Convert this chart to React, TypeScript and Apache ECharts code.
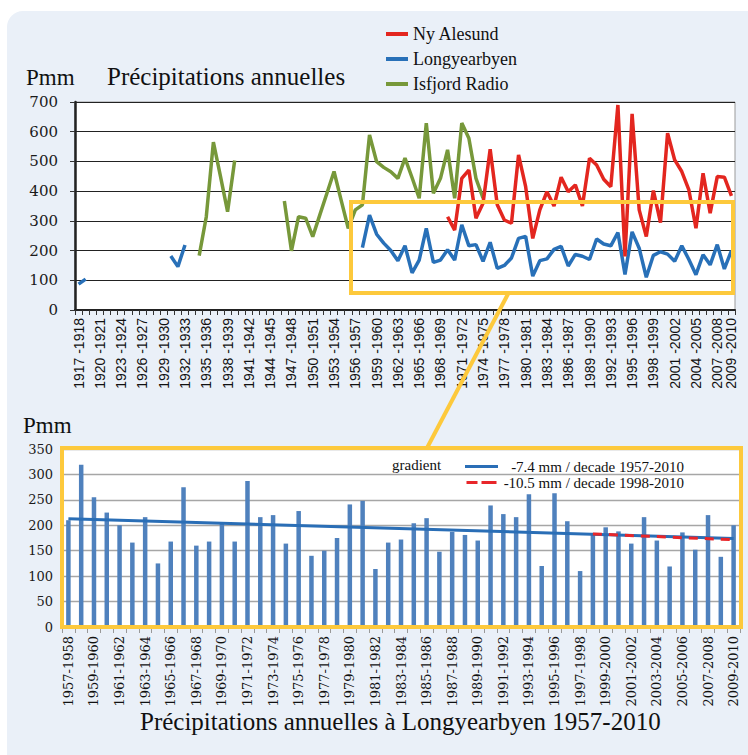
import React, { useEffect, useRef } from "react";
import * as echarts from "echarts";

// ---- Data ----
const firstYear = 1917;
const lastYear = 2009;
const topYears: number[] = [];
for (let y = firstYear; y <= lastYear; y++) topYears.push(y);
const topCategories = topYears.map((y) => `${y} -${y + 1}`);

// Ny Alesund, 1969-1970 .. 2009-2010
const nyAlesundStart = 1969;
const nyAlesund = [
  314, 269, 443, 471, 309, 359, 541, 354, 303, 292,
  522, 415, 241, 337, 398, 350, 447, 398, 421, 350,
  511, 488, 440, 415, 690, 180, 660, 337, 247, 402,
  294, 595, 505, 466, 404, 275, 460, 326, 449, 447,
  384,
];

// Longyearbyen early segments
const longyearbyenEarly1Start = 1917;
const longyearbyenEarly1 = [87, 104];
const longyearbyenEarly2Start = 1930;
const longyearbyenEarly2 = [182, 146, 219];

// Longyearbyen 1957-1958 .. 2009-2010 (bars of lower chart)
const longyearbyenStart = 1957;
const longyearbyen = [
  210, 319, 255, 225, 200, 166, 216, 125, 168, 275,
  160, 168, 203, 168, 287, 216, 220, 164, 228, 140,
  150, 175, 241, 248, 114, 166, 172, 204, 214, 148,
  187, 181, 170, 239, 222, 216, 261, 120, 263, 208,
  110, 184, 196, 188, 164, 216, 170, 119, 186, 152,
  220, 138, 200,
];

// Isfjord Radio segments
const isfjord1Start = 1934;
const isfjord1 = [183, 314, 565, 450, 331, 503];
const isfjord2Start = 1946;
const isfjord2 = [
  367, 199, 314, 309, 247, 320, 393, 466, 370, 275,
  337, 354, 589, 499, 480, 465, 443, 511, 445, 376,
  629, 393, 443, 539, 376, 629, 578, 443, 376,
];

// Lower chart categories
const bottomCategories = longyearbyen.map(
  (_, i) => `${longyearbyenStart + i}-${longyearbyenStart + i + 1}`
);

// Trend lines (end values)
const trendAllName = "-7.4 mm / decade 1957-2010";
const trendAllCats = ["1957-1958", "2009-2010"];
const trendAllValues = [213, 174];
const trendRecentName = "-10.5 mm / decade 1998-2010";
const trendRecentCats = ["1998-1999", "2009-2010"];
const trendRecentValues = [183, 171.5];

const topYTicks = { min: 0, max: 700, interval: 100 };
const bottomYTicks = { min: 0, max: 350, interval: 50 };

function place(segments: [number, number[]][]): (number | null)[] {
  const arr: (number | null)[] = topYears.map(() => null);
  segments.forEach(([start, vals]) => {
    vals.forEach((v, k) => {
      arr[start - firstYear + k] = v;
    });
  });
  return arr;
}

const RED = "#E3261F";
const BLUE = "#2870B8";
const GREEN = "#77983A";
const BAR = "#4F81BD";
const YELLOW = "#FDC93C";
const SERIF = '"Liberation Serif", serif';
const GEORGIA = '"DejaVu Serif", serif';

export default function App() {
  const ref = useRef<HTMLDivElement>(null);
  useEffect(() => {
    if (!ref.current) return;
    const chart = echarts.init(ref.current, undefined, { renderer: "svg" });
    const nyFull = place([[nyAlesundStart, nyAlesund]]);
    const lyFull = place([
      [longyearbyenEarly1Start, longyearbyenEarly1],
      [longyearbyenEarly2Start, longyearbyenEarly2],
      [longyearbyenStart, longyearbyen],
    ]);
    const isFull = place([
      [isfjord1Start, isfjord1],
      [isfjord2Start, isfjord2],
    ]);
    const lastIdx = topCategories.length - 1;

    const option: any = {
      animation: false,
      grid: [
        {
          left: 75, top: 102, width: 660, height: 208,
          show: true, backgroundColor: "#ffffff",
          borderColor: "#9a9a9a", borderWidth: 1,
        },
        {
          left: 62, top: 449, width: 678, height: 178,
          show: true, backgroundColor: "#ffffff", borderWidth: 0,
        },
      ],
      legend: [
        {
          data: [
            { name: "Ny Alesund", icon: "rect" },
            { name: "Longyearbyen", icon: "rect" },
            { name: "Isfjord Radio", icon: "rect" },
          ],
          orient: "vertical",
          left: 381, top: 20,
          itemWidth: 22, itemHeight: 4, itemGap: 7,
          textStyle: { fontFamily: SERIF, fontSize: 18, color: "#111" },
          selectedMode: false,
        },
        {
          data: [
            { name: trendAllName, icon: "rect" },
            { name: trendRecentName, icon: "path://M0,0H11V3H0Z M15,0H30V3H15Z" },
          ],
          orient: "vertical",
          left: 460, top: 454,
          itemWidth: 33, itemHeight: 3, itemGap: 1,
          selectedMode: false,
          formatter: (name: string) => `{t|${name}}`,
          textStyle: {
            fontFamily: SERIF, fontSize: 15, color: "#111",
            rich: { t: { width: 181, align: "right", fontFamily: SERIF, fontSize: 15, color: "#111" } },
          },
        },
      ],
      xAxis: [
        {
          type: "category", gridIndex: 0, data: topCategories, boundaryGap: true,
          axisLine: { lineStyle: { color: "#222", width: 2 } },
          axisTick: { show: true, interval: 0, length: 5, lineStyle: { color: "#333" } },
          axisLabel: {
            interval: (i: number) => i % 3 === 0 || i === lastIdx,
            rotate: 90, margin: 8,
            fontFamily: '"Liberation Sans", sans-serif', fontSize: 14, color: "#111",
          },
          splitLine: { show: false },
        },
        {
          type: "category", gridIndex: 1, data: bottomCategories, boundaryGap: true,
          axisLine: { show: false },
          axisTick: { show: true, interval: 0, length: 6, lineStyle: { color: "#999" } },
          axisLabel: {
            interval: 1, rotate: 90, margin: 9,
            fontFamily: GEORGIA, fontSize: 13, color: "#111",
          },
          splitLine: { show: false },
        },
      ],
      yAxis: [
        {
          type: "value", gridIndex: 0, ...topYTicks,
          axisLine: { show: true, lineStyle: { color: "#222", width: 2.5 } },
          axisTick: { show: true, length: 5, lineStyle: { color: "#333" } },
          axisLabel: { margin: 17, fontFamily: GEORGIA, fontSize: 15, color: "#1a1a1a" },
          splitLine: { show: true, lineStyle: { color: "#222", width: 1.2 } },
        },
        {
          type: "value", gridIndex: 1, ...bottomYTicks,
          axisLine: { show: false },
          axisTick: { show: false },
          axisLabel: { margin: 9, fontFamily: GEORGIA, fontSize: 13, color: "#1a1a1a" },
          splitLine: { show: true, lineStyle: { color: "#A6A6A6", width: 1.3 } },
        },
      ],
      series: [
        {
          name: "Ny Alesund", type: "line", xAxisIndex: 0, yAxisIndex: 0,
          data: nyFull, symbol: "none", showSymbol: false, connectNulls: false,
          lineStyle: { color: RED, width: 3.5 }, itemStyle: { color: RED }, z: 4,
        },
        {
          name: "Longyearbyen", type: "line", xAxisIndex: 0, yAxisIndex: 0,
          data: lyFull, symbol: "none", showSymbol: false, connectNulls: false,
          lineStyle: { color: BLUE, width: 3.5 }, itemStyle: { color: BLUE }, z: 3,
        },
        {
          name: "Isfjord Radio", type: "line", xAxisIndex: 0, yAxisIndex: 0,
          data: isFull, symbol: "none", showSymbol: false, connectNulls: false,
          lineStyle: { color: GREEN, width: 3.5 }, itemStyle: { color: GREEN }, z: 2,
        },
        {
          name: "Longyearbyen 1957-2010", type: "bar", xAxisIndex: 1, yAxisIndex: 1,
          data: longyearbyen, barWidth: 4.5, itemStyle: { color: BAR },
        },
        {
          name: trendAllName, type: "line", xAxisIndex: 1, yAxisIndex: 1,
          data: trendAllCats.map((c, i) => [c, trendAllValues[i]]),
          symbol: "none", showSymbol: false,
          lineStyle: { color: "#2A6EB6", width: 3 }, itemStyle: { color: "#2A6EB6" }, z: 5,
        },
        {
          name: trendRecentName, type: "line", xAxisIndex: 1, yAxisIndex: 1,
          data: trendRecentCats.map((c, i) => [c, trendRecentValues[i]]),
          symbol: "none", showSymbol: false,
          lineStyle: { color: "#E8262A", width: 3, type: [9, 7] }, itemStyle: { color: "#E8262A" }, z: 6,
        },
      ],
      graphic: [
        {
          type: "text", left: 26, top: 66, z: 50,
          style: { text: "Pmm", fontFamily: SERIF, fontSize: 23, fill: "#111" },
        },
        {
          type: "text", left: 107, top: 64, z: 50,
          style: { text: "Précipitations annuelles", fontFamily: SERIF, fontSize: 25, fill: "#111" },
        },
        {
          type: "text", left: 23, top: 414, z: 50,
          style: { text: "Pmm", fontFamily: SERIF, fontSize: 23, fill: "#111" },
        },
        {
          type: "text", left: 392, top: 457, z: 50,
          style: { text: "gradient", fontFamily: SERIF, fontSize: 15, fill: "#111" },
        },
        {
          type: "text", left: 140, top: 709, z: 50,
          style: {
            text: "Précipitations annuelles à Longyearbyen 1957-2010",
            fontFamily: SERIF, fontSize: 25, fill: "#111",
          },
        },
        {
          type: "rect", z: 100, silent: true,
          shape: { x: 351, y: 202, width: 382, height: 91 },
          style: { fill: "none", stroke: YELLOW, lineWidth: 4 },
        },
        {
          type: "line", z: 100, silent: true,
          shape: { x1: 508, y1: 294, x2: 427, y2: 448 },
          style: { stroke: YELLOW, lineWidth: 4 },
        },
        {
          type: "rect", z: 100, silent: true,
          shape: { x: 62, y: 448, width: 679, height: 179 },
          style: { fill: "none", stroke: YELLOW, lineWidth: 4 },
        },
      ],
    };
    chart.setOption(option);
    return () => chart.dispose();
  }, []);

  return (
    <div style={{ position: "fixed", left: 0, top: 0, width: 748, height: 755, background: "#ffffff", overflow: "hidden" }}>
      <div
        style={{
          position: "absolute", left: 7, top: 11, width: 800, height: 800,
          background: "#EAF0F8", borderRadius: 16,
        }}
      />
      <div ref={ref} style={{ position: "absolute", left: 0, top: 0, width: 748, height: 755 }} />
    </div>
  );
}
